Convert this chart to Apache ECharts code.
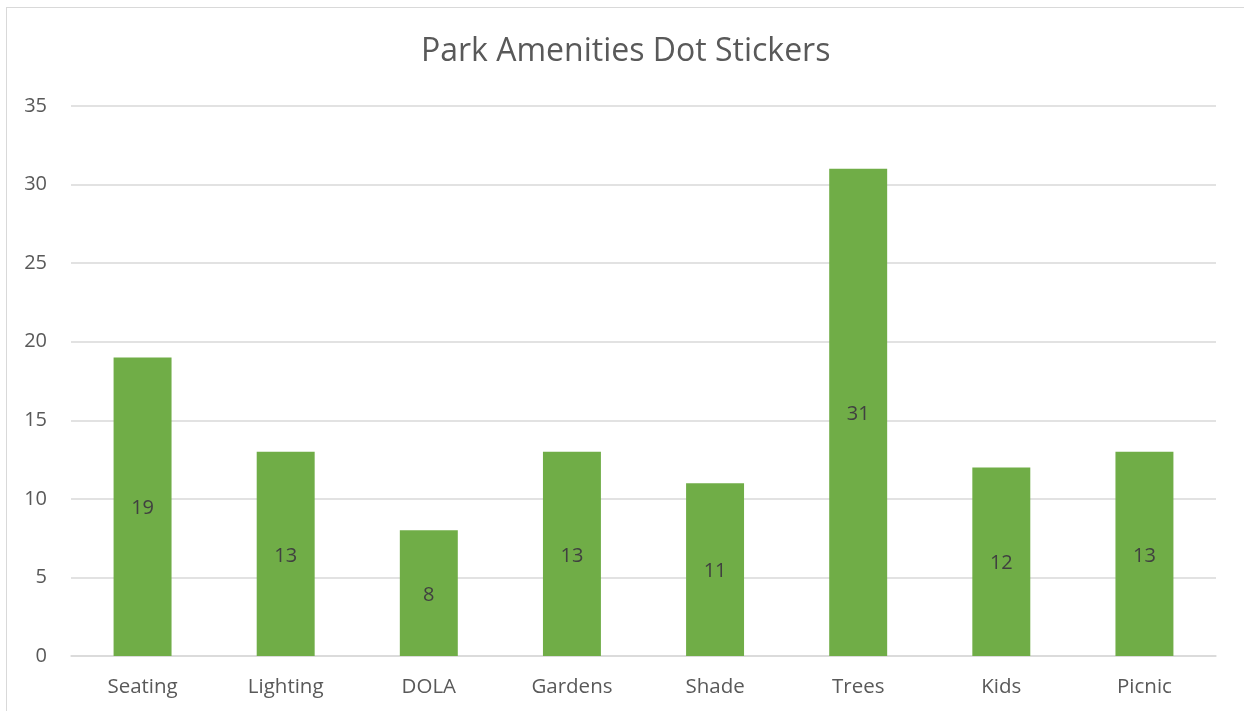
<!DOCTYPE html>
<html><head><meta charset="utf-8">
<script src="https://cdn.jsdelivr.net/npm/echarts@6/dist/echarts.min.js"></script>
<style>
html,body{margin:0;padding:0;background:#fff;overflow:hidden;}
#frame{position:absolute;left:6px;top:7px;width:1260px;height:730px;border-left:1px solid #d9d9d9;border-top:1px solid #d9d9d9;}
#c{position:absolute;left:0;top:0;width:1244px;height:711px;}
</style></head>
<body><div id="frame"></div><div id="c"></div>
<script>
const categories = ['Seating','Lighting','DOLA','Gardens','Shade','Trees','Kids','Picnic'];
const values = [19,13,8,13,11,31,12,13];
const chart = echarts.init(document.getElementById('c'));
chart.setOption({
  animation:false,
  title:{text:'Park Amenities Dot Stickers',left:416,top:31,textStyle:{fontFamily:'Open Sans',fontSize:32,fontWeight:'normal',color:'#595959'}},
  grid:{left:71,right:28,top:106,bottom:55},
  xAxis:{type:'category',data:categories,axisTick:{show:false},axisLine:{lineStyle:{color:'#d9d9d9',width:1.5}},
    axisLabel:{fontFamily:'Open Sans',fontSize:20.5,color:'#595959',margin:21}},
  yAxis:{type:'value',min:0,max:35,interval:5,axisLine:{show:false},axisTick:{show:false},
    splitLine:{lineStyle:{color:'#d9d9d9',width:1.5}},
    axisLabel:{fontFamily:'Open Sans',fontSize:20,color:'#595959',margin:24}},
  series:[{type:'bar',data:values,barWidth:'40.5%',itemStyle:{color:'#70ad47'},
    label:{show:true,position:'inside',offset:[0,2],fontFamily:'Open Sans',fontSize:20,color:'#404040'}}]
});
</script></body></html>
